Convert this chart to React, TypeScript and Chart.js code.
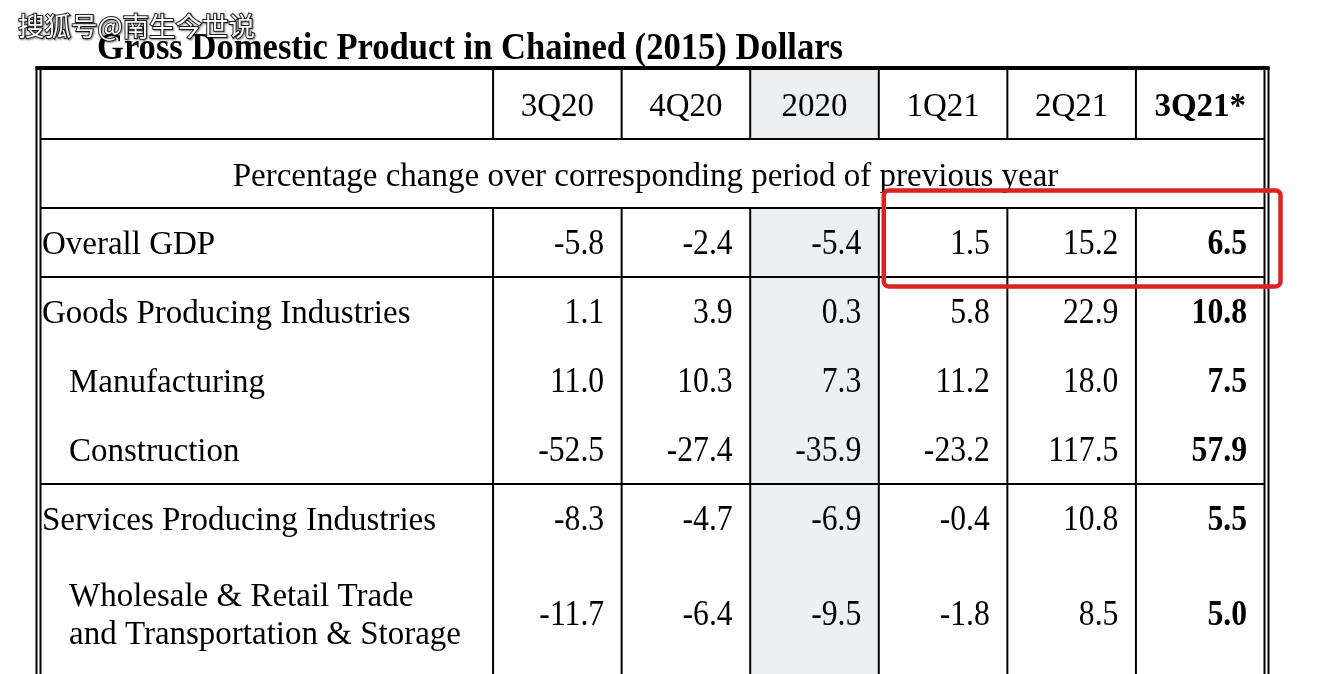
import React, { useEffect, useRef } from "react";
import { Chart, registerables } from "chart.js";

Chart.register(...registerables);

// ---------- content ----------
const titleText = "Gross Domestic Product in Chained (2015) Dollars";
const watermarkText = "搜狐号@南生今世说";
const subtitleText = "Percentage change over corresponding period of previous year";
const periods = ["3Q20", "4Q20", "2020", "1Q21", "2Q21", "3Q21*"];
const rowLabels = [
  "Overall GDP",
  "Goods Producing Industries",
  "Manufacturing",
  "Construction",
  "Services Producing Industries",
  "Wholesale & Retail Trade\nand Transportation & Storage",
];
const rowIndent = [false, false, true, true, false, true];

const q3_2020 = [-5.8, 1.1, 11.0, -52.5, -8.3, -11.7];
const q4_2020 = [-2.4, 3.9, 10.3, -27.4, -4.7, -6.4];
const y2020 = [-5.4, 0.3, 7.3, -35.9, -6.9, -9.5];
const q1_2021 = [1.5, 5.8, 11.2, -23.2, -0.4, -1.8];
const q2_2021 = [15.2, 22.9, 18.0, 117.5, 10.8, 8.5];
const q3_2021 = [6.5, 10.8, 7.5, 57.9, 5.5, 5.0];
const seriesValues = [q3_2020, q4_2020, y2020, q1_2021, q2_2021, q3_2021];

// ---------- layout (units of the table scales) ----------
const LABEL_COL_UNITS = 3.52;
const ROW_CENTERS = [2.5, 3.5, 4.5, 5.5, 6.5, 7.87];
const Y_MAX = 8.754;
const HIGHLIGHT_COL = 2;
const BOLD_COL = 5;
const X_MAX = LABEL_COL_UNITS + periods.length;

const SERIF = '"Liberation Serif", "Times New Roman", serif';
const INK = "#000000";

const tablePlugin = {
  id: "tablePainter",
  beforeDraw(chart: any) {
    const { ctx, width, height } = chart;
    ctx.save();
    ctx.fillStyle = "#ffffff";
    ctx.fillRect(0, 0, width, height);
    ctx.restore();
  },
  beforeDatasetsDraw(chart: any) {
    const { ctx } = chart;
    const x = chart.scales.x;
    const y = chart.scales.y;
    const L = x.getPixelForValue(0);
    const R = x.getPixelForValue(X_MAX);
    const T = y.getPixelForValue(0);
    const B = y.getPixelForValue(Y_MAX);
    ctx.save();
    // shaded annual column
    const sx0 = x.getPixelForValue(LABEL_COL_UNITS + HIGHLIGHT_COL);
    const sx1 = x.getPixelForValue(LABEL_COL_UNITS + HIGHLIGHT_COL + 1);
    ctx.fillStyle = "#eeeff1";
    ctx.fillRect(sx0, T, sx1 - sx0, y.getPixelForValue(1) - T);
    ctx.fillRect(sx0, y.getPixelForValue(2), sx1 - sx0, B - y.getPixelForValue(2));

    ctx.strokeStyle = "#000000";
    ctx.lineWidth = 2;
    const line = (x0: number, y0: number, x1: number, y1: number) => {
      ctx.beginPath();
      ctx.moveTo(x0, y0);
      ctx.lineTo(x1, y1);
      ctx.stroke();
    };
    // horizontal rules
    [1, 2, 3, 6].forEach((u) => {
      const py = y.getPixelForValue(u);
      line(L, py, R, py);
    });
    // vertical rules (interrupted in the subtitle row)
    for (let b = 0; b < periods.length; b++) {
      const px = x.getPixelForValue(LABEL_COL_UNITS + b);
      line(px, T, px, y.getPixelForValue(1));
      line(px, y.getPixelForValue(2), px, B);
    }
    // double outer borders
    line(L, T - 3, L, B);
    line(L - 4, T - 3, L - 4, B);
    line(R, T - 3, R, B);
    line(R + 4, T - 3, R + 4, B);
    ctx.lineWidth = 4;
    line(L - 5, T - 2, R + 5, T - 2);
    ctx.restore();
  },
  afterDatasetsDraw(chart: any) {
    const { ctx, chartArea: ca } = chart;
    const x = chart.scales.x;
    const y = chart.scales.y;
    const L = x.getPixelForValue(0);
    const R = x.getPixelForValue(X_MAX);
    ctx.save();
    ctx.fillStyle = INK;
    ctx.textBaseline = "alphabetic";

    // title
    ctx.save();
    ctx.font = `bold 38px ${SERIF}`;
    ctx.textAlign = "left";
    ctx.translate(ca.left + 56.5, ca.top - 11);
    ctx.scale(0.91, 1);
    ctx.fillText(titleText, 0, 0);
    ctx.restore();

    // column headers
    periods.forEach((p, i) => {
      ctx.font = `${i === BOLD_COL ? "bold " : ""}33px ${SERIF}`;
      ctx.textAlign = "center";
      const cx = x.getPixelForValue(LABEL_COL_UNITS + i + 0.5);
      ctx.fillText(p, cx, y.getPixelForValue(0.5) + 11.5);
    });

    // subtitle row
    ctx.font = `33px ${SERIF}`;
    ctx.textAlign = "center";
    ctx.fillText(subtitleText, (L + R) / 2 - 7, y.getPixelForValue(1.5) + 12.5);

    // row labels
    ctx.textAlign = "left";
    rowLabels.forEach((lab, r) => {
      const cy = y.getPixelForValue(ROW_CENTERS[r]);
      const lx = L + (rowIndent[r] ? 28.5 : 1.5);
      const lines = lab.split("\n");
      lines.forEach((ln, i) => {
        ctx.fillText(ln, lx, cy + 11.5 + (i - (lines.length - 1) / 2) * 38);
      });
    });

    // values, placed at each data element
    chart.data.datasets.forEach((ds: any, di: number) => {
      const meta = chart.getDatasetMeta(di);
      meta.data.forEach((el: any, i: number) => {
        const v = ds.data[i].v as number;
        ctx.save();
        ctx.font = `${di === BOLD_COL ? "bold " : ""}36px ${SERIF}`;
        ctx.textAlign = "right";
        ctx.translate(el.x - 17.5, el.y + 12);
        ctx.scale(0.88, 1);
        ctx.fillText(v.toFixed(1), 0, 0);
        ctx.restore();
      });
    });

    // red highlight box around the 2021 GDP figures
    const rx0 = x.getPixelForValue(LABEL_COL_UNITS + 3) + 5;
    const rx1 = R + 16;
    const ry0 = y.getPixelForValue(2) - 17.5;
    const ry1 = y.getPixelForValue(3) + 9.5;
    ctx.strokeStyle = "#dd2222";
    ctx.lineWidth = 4.5;
    ctx.beginPath();
    if ((ctx as any).roundRect) {
      (ctx as any).roundRect(rx0, ry0, rx1 - rx0, ry1 - ry0, 5);
    } else {
      ctx.rect(rx0, ry0, rx1 - rx0, ry1 - ry0);
    }
    ctx.stroke();

    // watermark
    ctx.font = `26.5px "Noto Sans CJK SC", sans-serif`;
    ctx.textAlign = "left";
    ctx.textBaseline = "middle";
    ctx.lineWidth = 2;
    ctx.strokeStyle = "rgba(0,0,0,0.85)";
    ctx.shadowColor = "rgba(0,0,0,0.6)";
    ctx.shadowBlur = 2;
    ctx.shadowOffsetX = 1;
    ctx.shadowOffsetY = 1;
    ctx.strokeText(watermarkText, 18, 26);
    ctx.shadowColor = "transparent";
    ctx.fillStyle = "#ffffff";
    ctx.fillText(watermarkText, 18, 26);
    ctx.restore();
  },
};

export default function App() {
  const ref = useRef<HTMLCanvasElement | null>(null);
  useEffect(() => {
    document.body.style.margin = "0";
    document.body.style.background = "#ffffff";
    if (!ref.current) return;
    const datasets = periods.map((p, pi) => ({
      label: p,
      data: seriesValues[pi].map((v, r) => ({
        x: LABEL_COL_UNITS + pi + 1,
        y: ROW_CENTERS[r],
        v,
      })),
      pointRadius: 0,
      pointHoverRadius: 0,
      showLine: false,
    }));
    const chart = new Chart(ref.current, {
      type: "scatter",
      data: { datasets } as any,
      options: {
        animation: false,
        responsive: false,
        events: [],
        layout: { padding: { left: 40.5, top: 70, right: 59.5, bottom: 0 } },
        scales: {
          x: { type: "linear", min: 0, max: X_MAX, display: false },
          y: { type: "linear", min: 0, max: Y_MAX, reverse: true, display: false },
        },
        plugins: {
          legend: { display: false },
          tooltip: { enabled: false },
          title: { display: false },
        },
      } as any,
      plugins: [tablePlugin as any],
    });
    return () => chart.destroy();
  }, []);
  return (
    <div style={{ width: 1324, height: 674 }}>
      <canvas ref={ref} width={1324} height={674} style={{ display: "block" }} />
    </div>
  );
}
